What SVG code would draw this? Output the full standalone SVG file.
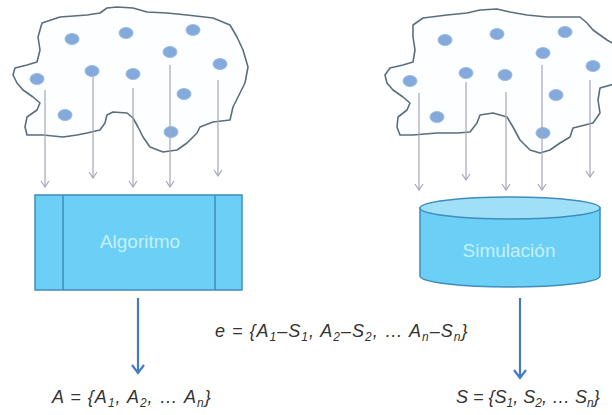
<svg xmlns="http://www.w3.org/2000/svg" width="612" height="415" viewBox="0 0 612 415">
<style>
.cloud{fill:#fdfeff;stroke:#5b6e7d;stroke-width:1.6;stroke-linejoin:round}
.dot{fill:#84aadb;stroke:#9bbbe4;stroke-width:1}
.drop{stroke:#a3a6b8;stroke-width:1.2;fill:none}
.out{stroke:#3f7cc0;stroke-width:2.2;fill:none}
.box{fill:#6ccff5;stroke:#3f8dbd;stroke-width:1.5}
.lbl{font-family:"Liberation Sans",Arial,sans-serif;font-size:19px;fill:#c4f1ff;text-anchor:middle}
.eq{font-family:"Liberation Sans",Arial,sans-serif;font-style:italic;font-size:18px;fill:#333}
.wide{letter-spacing:1px}
.sub{font-size:12px}
</style>
<defs>
<marker id="ag" markerUnits="userSpaceOnUse" markerWidth="10" markerHeight="12" refX="8" refY="5" orient="auto" viewBox="0 0 10 10">
<path d="M2,1 L8,5 L2,9" fill="none" stroke="#a3a6b8" stroke-width="1.2"/>
</marker>
<marker id="ab" markerUnits="userSpaceOnUse" markerWidth="14" markerHeight="16" refX="11" refY="7" orient="auto" viewBox="0 0 14 14">
<path d="M3,1 L11,7 L3,13" fill="none" stroke="#3f7cc0" stroke-width="2.2"/>
</marker>
</defs>
<rect width="612" height="415" fill="#ffffff"/>
<g id="cloud-left">
<path class="cloud" d="M42,23 L60,17 L87,15 L100,13 L107,8 L117,7 L133,8 L147,12 L167,13 L187,15 L213,18 L230,25 L237,37 L243,50 L248,67 L245,83 L238,97 L233,107 L230,120 L213,122 L200,127 L197,133 L187,143 L177,150 L163,152 L150,147 L143,137 L138,127 L133,118 L127,113 L113,112 L107,115 L105,123 L100,130 L87,133 L77,135 L63,137 L43,135 L27,135 L25,127 L27,117 L37,110 L40,103 L33,97 L23,90 L17,83 L13,75 L15,68 L27,65 L37,62 L40,50 L38,37 Z"/>
<ellipse class="dot" cx="72" cy="39" rx="7" ry="5.5"/>
<ellipse class="dot" cx="126" cy="33" rx="7" ry="5.5"/>
<ellipse class="dot" cx="193" cy="30" rx="7" ry="5.5"/>
<ellipse class="dot" cx="170" cy="52" rx="7" ry="5.5"/>
<ellipse class="dot" cx="220" cy="64" rx="7" ry="5.5"/>
<ellipse class="dot" cx="37" cy="79" rx="7" ry="5.5"/>
<ellipse class="dot" cx="92" cy="71" rx="7" ry="5.5"/>
<ellipse class="dot" cx="133" cy="74" rx="7" ry="5.5"/>
<ellipse class="dot" cx="184" cy="94" rx="7" ry="5.5"/>
<ellipse class="dot" cx="65" cy="115" rx="7" ry="5.5"/>
<ellipse class="dot" cx="171" cy="132" rx="7" ry="5.5"/>
</g>
<g id="cloud-right">
<path class="cloud" d="M413,25 L423,18 L447,15 L467,13 L480,10 L497,9 L510,12 L527,15 L547,17 L567,17 L580,17 L587,23 L593,30 L607,40 L614,44 L614,84 L600,88 L598,100 L600,113 L593,123 L573,128 L570,137 L560,143 L550,150 L540,153 L530,150 L520,140 L513,127 L507,117 L493,113 L480,115 L477,123 L470,132 L457,133 L437,133 L413,135 L400,135 L397,127 L398,117 L407,110 L410,103 L403,97 L393,90 L387,83 L385,75 L390,68 L403,65 L413,62 L415,50 L413,37 Z"/>
<ellipse class="dot" cx="445" cy="40" rx="7" ry="5.5"/>
<ellipse class="dot" cx="497" cy="34" rx="7" ry="5.5"/>
<ellipse class="dot" cx="565" cy="32" rx="7" ry="5.5"/>
<ellipse class="dot" cx="543" cy="53" rx="7" ry="5.5"/>
<ellipse class="dot" cx="593" cy="66" rx="7" ry="5.5"/>
<ellipse class="dot" cx="410" cy="81" rx="7" ry="5.5"/>
<ellipse class="dot" cx="466" cy="73" rx="7" ry="5.5"/>
<ellipse class="dot" cx="505" cy="75" rx="7" ry="5.5"/>
<ellipse class="dot" cx="556" cy="95" rx="7" ry="5.5"/>
<ellipse class="dot" cx="437" cy="117" rx="7" ry="5.5"/>
<ellipse class="dot" cx="543" cy="133" rx="7" ry="5.5"/>
</g>
<g id="algoritmo">
<rect class="box" x="35" y="195" width="207" height="95"/>
<line x1="63" y1="195" x2="63" y2="290" stroke="#3f8dbd" stroke-width="1.5"/>
<line x1="215" y1="195" x2="215" y2="290" stroke="#3f8dbd" stroke-width="1.5"/>
<text class="lbl" x="140" y="248">Algoritmo</text>
</g>
<g id="simulacion">
<path class="box" d="M420,208 L420,276 A90,11 0 0 0 600,276 L600,208 Z"/>
<ellipse cx="510" cy="208" rx="90" ry="11" fill="#9fe0f8" stroke="#3f8dbd" stroke-width="1.5"/>
<text class="lbl" x="509" y="257">Simulación</text>
</g>
<g id="connectors">
<line class="drop" x1="45" y1="90" x2="45" y2="187" marker-end="url(#ag)"/>
<line class="drop" x1="93" y1="77" x2="93" y2="178" marker-end="url(#ag)"/>
<line class="drop" x1="133" y1="88" x2="133" y2="187" marker-end="url(#ag)"/>
<line class="drop" x1="170" y1="65" x2="170" y2="187" marker-end="url(#ag)"/>
<line class="drop" x1="218" y1="80" x2="218" y2="176" marker-end="url(#ag)"/>
<line class="drop" x1="419" y1="93" x2="419" y2="190" marker-end="url(#ag)"/>
<line class="drop" x1="466" y1="82" x2="466" y2="180" marker-end="url(#ag)"/>
<line class="drop" x1="506" y1="92" x2="506" y2="190" marker-end="url(#ag)"/>
<line class="drop" x1="542" y1="65" x2="542" y2="190" marker-end="url(#ag)"/>
<line class="drop" x1="590" y1="80" x2="590" y2="177" marker-end="url(#ag)"/>
<line class="out" x1="138" y1="298" x2="138" y2="373" marker-end="url(#ab)"/>
<line class="out" x1="520" y1="298" x2="520" y2="378" marker-end="url(#ab)"/>
</g>
<g id="labels">
<text class="eq wide" x="215" y="337">e = {A<tspan class="sub" dy="4">1</tspan><tspan dy="-4">–S</tspan><tspan class="sub" dy="4">1</tspan><tspan dy="-4">, A</tspan><tspan class="sub" dy="4">2</tspan><tspan dy="-4">–S</tspan><tspan class="sub" dy="4">2</tspan><tspan dy="-4">, … A</tspan><tspan class="sub" dy="4">n</tspan><tspan dy="-4">–S</tspan><tspan class="sub" dy="4">n</tspan><tspan dy="-4">}</tspan></text>
<text class="eq wide" x="52" y="403">A = {A<tspan class="sub" dy="4">1</tspan><tspan dy="-4">, A</tspan><tspan class="sub" dy="4">2</tspan><tspan dy="-4">, … A</tspan><tspan class="sub" dy="4">n</tspan><tspan dy="-4">}</tspan></text>
<text class="eq" x="456" y="403">S = {S<tspan class="sub" dy="4">1</tspan><tspan dy="-4">, S</tspan><tspan class="sub" dy="4">2</tspan><tspan dy="-4">, … S</tspan><tspan class="sub" dy="4">n</tspan><tspan dy="-4">}</tspan></text>
</g>
</svg>
